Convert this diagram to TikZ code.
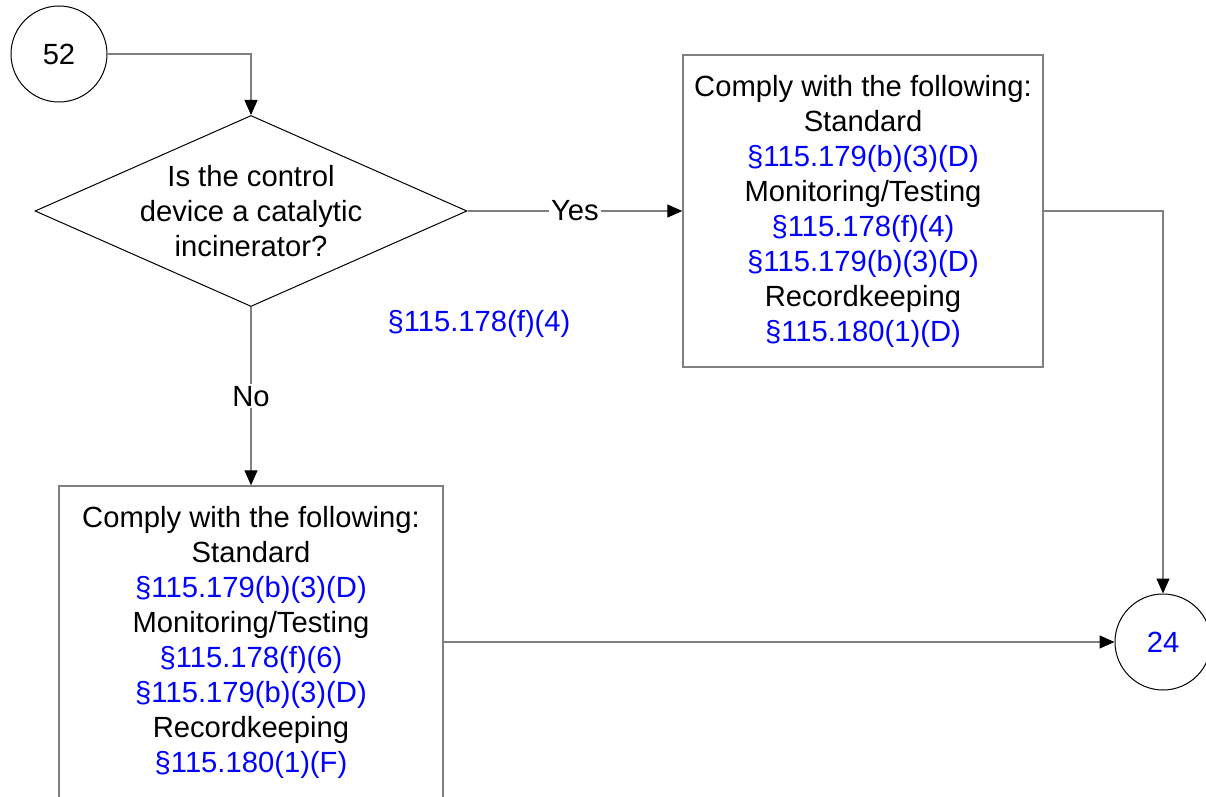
\documentclass[tikz,border=0pt]{standalone}
\usepackage{fontspec}
\setmainfont{Liberation Sans}
\usepackage{tikz}
\usetikzlibrary{shapes.geometric,arrows.meta}
\definecolor{linegray}{RGB}{128,128,128}
\definecolor{refblue}{RGB}{0,0,255}
\tikzstyle{offpage} = [draw=black, line width=0.5pt, circle, minimum size=48pt, inner sep=0pt]
\tikzstyle{decision} = [draw=black, line width=0.5pt, diamond, minimum width=216pt, minimum height=95.5pt, inner sep=0pt]
\tikzstyle{action} = [draw=linegray, line width=0.7pt, rectangle, align=center, inner sep=0pt]
\tikzstyle{conn} = [draw=linegray, line width=0.6pt, -{Triangle[length=7.5pt,width=6.5pt,color=black]}]
\tikzstyle{answer} = [fill=white, inner sep=1pt]
\newcommand{\sref}[1]{\textcolor{refblue}{#1}}

\begin{document}
\begin{tikzpicture}[x=0.5pt, y=-0.5pt, every node/.style={font=\fontsize{14.6}{17.5}\selectfont}]
    \useasboundingbox (0,0) rectangle (1206,797);
    % off-page connectors
    \node [offpage] (c52) at (59,54) {52};
    \node [offpage] (c24) at (1163,642) {\sref{24}};
    % question
    \node [decision, label={[align=center]center:Is the control\\device a catalytic\\incinerator?}] (dec) at (251,211) {};
    \node [text=refblue] (ref) at (479,324) {§115.178(f)(4)};
    % requirements
    \node [action, minimum width=180pt, minimum height=156pt] (boxY) at (863,211) {%
        Comply with the following:\\
        Standard\\
        \sref{§115.179(b)(3)(D)}\\
        Monitoring/Testing\\
        \sref{§115.178(f)(4)}\\
        \sref{§115.179(b)(3)(D)}\\
        Recordkeeping\\
        \sref{§115.180(1)(D)}};
    \node [action, minimum width=192pt, minimum height=156pt] (boxN) at (251,642) {%
        Comply with the following:\\
        Standard\\
        \sref{§115.179(b)(3)(D)}\\
        Monitoring/Testing\\
        \sref{§115.178(f)(6)}\\
        \sref{§115.179(b)(3)(D)}\\
        Recordkeeping\\
        \sref{§115.180(1)(F)}};
    % connectors
    \draw [conn] (c52.east) -| (dec.north);
    \draw [conn] (dec.east) -- node [answer] {Yes} (boxY.west);
    \draw [conn] (dec.south) -- node [answer] {No} (boxN.north);
    \draw [conn] (boxY.east) -| (c24.north);
    \draw [conn] (boxN) -- (c24);
\end{tikzpicture}
\end{document}
